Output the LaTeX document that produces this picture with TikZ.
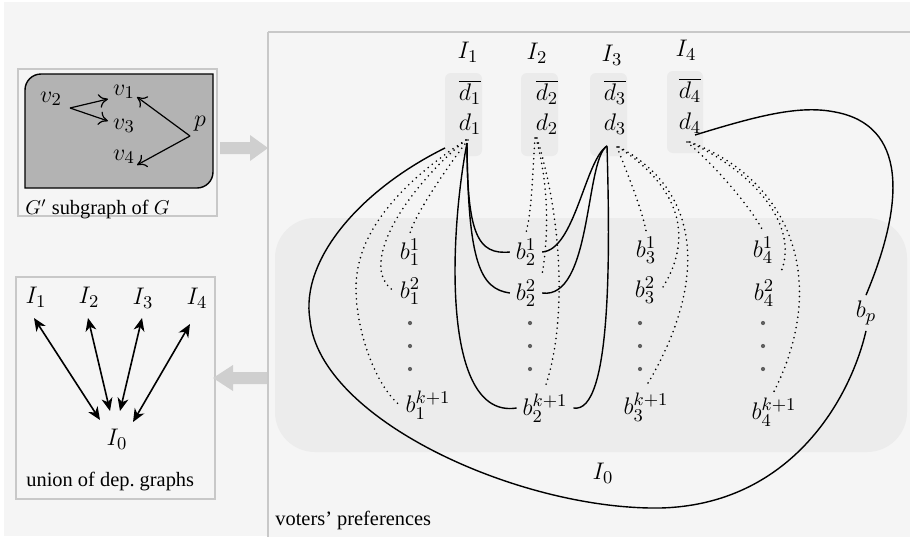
\documentclass[tikz,border=0pt]{standalone}
\usepackage{fontspec}
\setmainfont{Liberation Serif}
\usetikzlibrary{arrows.meta}
\definecolor{bgc}{HTML}{F5F5F5}
\definecolor{boxline}{HTML}{C8C8C8}
\definecolor{regionc}{HTML}{ECECEC}
\definecolor{dboxc}{HTML}{EBEBEB}
\definecolor{gfill}{HTML}{B3B3B3}
\definecolor{garrow}{HTML}{CFCFCF}
\definecolor{dotc}{HTML}{606060}
\begin{document}
\begin{tikzpicture}[x=0.5pt,y=-0.5pt,
  font=\fontsize{10}{12}\selectfont,
  lbl/.style={inner sep=0.5pt, font=\fontsize{13}{15}\selectfont},
  bn/.style={lbl, outer sep=2.5pt},
  txt/.style={inner sep=0pt, anchor=west, font=\fontsize{10.2}{12}\selectfont},
  conn/.style={line width=0.7pt},
  dconn/.style={line width=0.9pt, dash pattern=on 0pt off 2.6pt, line cap=round},
  ell/.style={circle, fill=dotc, inner sep=0pt, minimum size=2.1pt},
  framebox/.style={draw=boxline, line width=0.8pt},
  dbox/.style={fill=dboxc, rounded corners=3pt},
  garrowst/.style={fill=garrow, draw=none},
  garc/.style={line width=0.6pt, -{To[length=4.5pt,width=7pt]}},
  darc/.style={line width=0.8pt, {Stealth[length=6.5pt,width=5.5pt,inset=2pt]}-{Stealth[length=6.5pt,width=5.5pt,inset=2pt]}}
]
\useasboundingbox (0,0) rectangle (910,536);
\fill[bgc] (4,2) rectangle (910,536);

% ---------- top-left box ----------
\draw[framebox, fill=bgc] (18,69) rectangle (217,216);
\draw[fill=gfill, line width=0.7pt] (25,188) -- (25,90) arc[start angle=180, end angle=270, radius=16] -- (213,74) -- (213,172) arc[start angle=0, end angle=90, radius=16] -- cycle;
\node[lbl] (v2) at (51,99) {$v_2$};
\node[lbl] (v1) at (124,92) {$v_1$};
\node[lbl] (v3) at (124,126) {$v_3$};
\node[lbl] (v4) at (124,157) {$v_4$};
\node[lbl] (p) at (200,124) {$p$};
\coordinate (v2o) at (70,108);
\coordinate (po) at (190,136);
\draw[garc] (v2o) -- (108,99);
\draw[garc] (v2o) -- (108,121);
\draw[garc] (po) -- (137,97);
\draw[garc] (po) -- (137,165);
\node[txt] (glab) at (25,209) {$G'$ subgraph of $G$};

% gray arrow right
\fill[garrowst] (220,142) -- (250,142) -- (250,135) -- (268,148) -- (250,161) -- (250,154) -- (220,154) -- cycle;

% ---------- bottom-left box ----------
\draw[framebox, fill=bgc] (16,277) rectangle (215,499);
\node[lbl] (J1) at (36,297) {$I_1$};
\node[lbl] (J2) at (89,297) {$I_2$};
\node[lbl] (J3) at (143,298) {$I_3$};
\node[lbl] (J4) at (197,298) {$I_4$};
\node[lbl] (J0) at (117,439) {$I_0$};
\draw[darc] (34,318) -- (100,420);
\draw[darc] (88,318) -- (110,411);
\draw[darc] (142,318) -- (120,411);
\draw[darc] (190,324) -- (133,422);
\node[txt] (ulab) at (26,482) {union of dep.\ graphs};

% gray arrow left
\fill[garrowst] (267,372) -- (233,372) -- (233,365) -- (213,378) -- (233,391) -- (233,384) -- (267,384) -- cycle;

% ---------- main box ----------
\draw[framebox, fill=bgc] (268,32) -- (912,32) (268,32) -- (268,538) -- (912,538);
\fill[regionc, rounded corners=20pt] (275,218) rectangle (907,452);
\fill[dbox] (445,73) rectangle (482,156);
\fill[dbox] (521,73) rectangle (558,156);
\fill[dbox] (590,73) rectangle (627,156);
\fill[dbox] (667,71) rectangle (703,153);
\node[txt] (vlab) at (275,520) {voters' preferences};

\node[lbl] (I1) at (468,52) {$I_1$};
\node[lbl] (I2) at (537,53) {$I_2$};
\node[lbl] (I3) at (612,55) {$I_3$};
\node[lbl] (I4) at (686,50) {$I_4$};
\node[lbl] (bd1) at (470,92) {$\overline{d_1}$};
\node[lbl] (bd2) at (547,92) {$\overline{d_2}$};
\node[lbl] (bd3) at (615,92) {$\overline{d_3}$};
\node[lbl] (bd4) at (690,90) {$\overline{d_4}$};
\node[lbl] (d1) at (470,124) {$d_1$};
\node[lbl] (d2) at (547,124) {$d_2$};
\node[lbl] (d3) at (615,124) {$d_3$};
\node[lbl] (d4) at (690,123) {$d_4$};
\coordinate (d1o) at (467,143);
\coordinate (d1l) at (445,148);
\coordinate (d3o) at (607,146);
\coordinate (d4o) at (695,135);

\node[bn] (b11) at (410,252) {$b_1^1$};
\node[bn] (b12) at (410,291) {$b_1^2$};
\node[bn] (b1k) at (428,405) {$b_1^{k+1}$};
\node[bn] (b21) at (526,252) {$b_2^1$};
\node[bn] (b22) at (526,293) {$b_2^2$};
\node[bn] (b2k) at (545,408) {$b_2^{k+1}$};
\node[bn] (b31) at (646,250) {$b_3^1$};
\node[bn] (b32) at (645,290) {$b_3^2$};
\node[bn] (b3k) at (646,407) {$b_3^{k+1}$};
\node[bn] (b41) at (763,250) {$b_4^1$};
\node[bn] (b42) at (764,293) {$b_4^2$};
\node[bn] (b4k) at (774,412) {$b_4^{k+1}$};
\node[bn] (bp) at (866,313) {$b_p$};
\node[lbl] (I0) at (603,473) {$I_0$};

\foreach \x/\n in {410/1,530/2,640/3,763/4}{
  \node[ell] (e\n a) at (\x,323) {};
  \node[ell] (e\n b) at (\x,346) {};
  \node[ell] (e\n c) at (\x,369) {};
}

% solid connectors
\draw[conn] (d1l) .. controls (360,190) and (300,260) .. (310,320)
  .. controls (320,420) and (520,510) .. (660,508)
  .. controls (790,505) and (850,400) .. (bp.south);
\draw[conn] (d4o) .. controls (760,115) and (800,105) .. (835,112)
  .. controls (906,125) and (906,200) .. (bp.north);
\draw[conn] (d1o) .. controls (467,235) and (478,255) .. (b21.west);
\draw[conn] (d1o) .. controls (468,262) and (480,289) .. (b22.west);
\draw[conn] (d1o) .. controls (450,230) and (440,420) .. (b2k.west);
\draw[conn] (b21.east) .. controls (575,250) and (585,160) .. (d3o);
\draw[conn] (b22.east) .. controls (592,300) and (585,160) .. (d3o);
\draw[conn] (b2k.east) .. controls (612,415) and (610,250) .. (d3o);

% dotted connectors
\draw[dconn] (468,140) .. controls (445,170) and (415,215) .. (b11.north);
\draw[dconn] (466,140) .. controls (410,185) and (355,265) .. (b12.west);
\draw[dconn] (466,140) .. controls (390,190) and (355,240) .. (356,290)
  .. controls (357,340) and (380,390) .. (b1k.west);
\draw[dconn] (535,138) .. controls (532,180) and (532,210) .. (b21.north);
\draw[dconn] (536,138) .. controls (550,190) and (548,240) .. (b22.north east);
\draw[dconn] (537,138) .. controls (565,230) and (565,330) .. (b2k.north);
\draw[dconn] (617,147) .. controls (630,180) and (642,210) .. (b31.north);
\draw[dconn] (618,147) .. controls (670,180) and (700,230) .. (b32.east);
\draw[dconn] (619,147) .. controls (700,190) and (710,280) .. (b3k.north);
\draw[dconn] (687,142) .. controls (720,170) and (752,210) .. (b41.north);
\draw[dconn] (689,142) .. controls (760,175) and (800,230) .. (b42.north east);
\draw[dconn] (690,142) .. controls (790,180) and (830,280) .. (b4k.north);
\end{tikzpicture}
\end{document}
